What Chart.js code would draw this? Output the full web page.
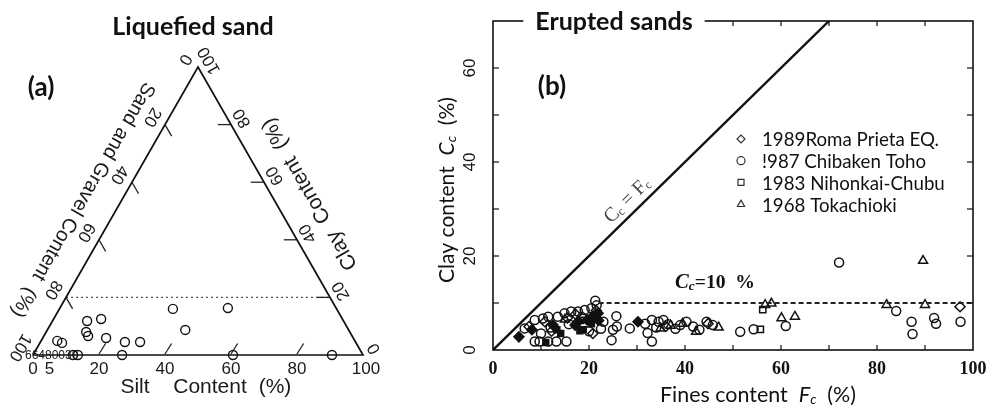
<!DOCTYPE html>
<html>
<head>
<meta charset="utf-8">
<script src="https://cdn.jsdelivr.net/npm/chart.js@4.4.0/dist/chart.umd.min.js"></script>
<style>
  html, body { margin: 0; background: #fff; }
  #wrap { position: relative; width: 989px; height: 409px; overflow: hidden; }
  #wrap canvas { position: absolute; left: 0; top: 0; }
</style>
</head>
<body>
<div id="wrap">
  <canvas id="ternChart" width="989" height="409" style="width:989px;height:409px"></canvas>
  <canvas id="eruptChart" width="989" height="409" style="width:989px;height:409px"></canvas>
</div>
<script>
// ── DATA: (a) liquefied sand, ternary (silt %, clay %) ──────────
const ternSilt = [34.4, 50.9, 10.5, 14.4, 12.1, 13.4, 41.8, 19.2, 25.6, 30.2, 4.9, 6.7];
const ternClay = [16.0, 16.3, 11.8, 12.5,  8.0,  6.6,  8.7,  5.9,  4.5,  4.5, 4.9, 4.2];
const baseSilt = [12.1, 13.6, 27.0, 60.6, 90.6];   // points on the clay = 0 edge
const siltLabels = [0, 5, 20, 40, 60, 80, 100];
const edgeLabels = [0, 20, 40, 60, 80, 100];
const edgeTicks  = [20, 40, 60, 80];
const clayLimit  = 20;

// ── DATA: (b) erupted sands (fines %, clay %) ──────────────────
const chibaX = [6.6, 8.7, 10.4, 11.5, 8.7, 9.7, 11.5, 13.2, 15.3, 13.5, 14.9, 16.3, 17.7, 19.1, 20.5, 21.3, 21.6, 12.0,
  15.8, 18.5, 23.0, 25.0, 24.7, 25.8, 25.7, 22.5, 28.5, 31.7, 33.1, 34.5, 35.5, 33.1, 32.2, 36.5, 39.0, 40.3, 41.7,
  44.5, 45.8, 43.0, 38.0, 51.5, 54.3, 61.0, 72.1, 84.0, 87.2, 87.4, 91.9, 92.3, 97.4, 20.0, 10.0, 34.0];
const chibaY = [4.6, 6.4, 6.7, 7.1, 1.8, 1.8, 1.8, 1.8, 1.8, 7.1, 7.8, 8.2, 8.2, 8.5, 8.9, 10.5, 9.5, 4.8,
  5.5, 7.0, 6.0, 4.3, 2.1, 5.0, 7.2, 4.5, 4.6, 5.6, 6.4, 6.0, 6.4, 1.8, 3.6, 5.5, 5.3, 6.0, 5.0,
  6.0, 5.3, 4.3, 4.5, 3.9, 4.4, 5.1, 18.6, 8.3, 6.0, 3.4, 6.8, 5.6, 6.0, 4.0, 3.5, 4.8];
const tokaX = [34.9, 37.0, 42.3, 47.0, 56.7, 58.0, 60.1, 62.9, 82.0, 90.0, 89.6, 15.0, 39.5];
const tokaY = [4.6, 5.2, 3.9, 4.8, 9.6, 9.9, 6.8, 7.1, 9.6, 9.6, 19.0, 6.5, 5.6];
const lomaX = [7.5, 10.8, 15.5, 17.2, 20.8, 21.5, 44.8, 97.3, 12.2, 36.0];
const lomaY = [5.0, 6.0, 6.8, 7.6, 3.5, 8.4, 5.6, 9.2, 4.0, 5.0];
const nihonX = [55.7, 56.2, 18.2];
const nihonY = [4.4, 8.6, 6.3];
const solidDiaX = [5.4, 8.1, 12.5, 17.1, 17.8, 20.9, 21.9, 19.6, 30.2, 22.0];
const solidDiaY = [2.8, 4.3, 5.3, 5.3, 6.1, 7.3, 7.8, 6.4, 6.0, 6.3];
const solidSqX = [11.0, 13.3, 14.1, 18.8, 20.5, 21.6, 18.1];
const solidSqY = [1.6, 4.3, 3.5, 4.3, 5.6, 6.9, 4.1];
const xTicks = [0, 20, 40, 60, 80, 100];
const yTicks = [0, 20, 40, 60];
const legendNames = ['1989Roma Prieta EQ.', '!987 Chibaken Toho', '1983 Nihonkai-Chubu', '1968 Tokachioki'];
const legendStyles = ['rectRot', 'circle', 'rect', 'triangle'];

// ── helpers ────────────────────────────────────────
const tern = (s, c) => ({ x: s + c / 2, y: c });
const zip = (xs, ys) => xs.map((x, i) => ({ x, y: ys[i] }));
const SANS = '"Liberation Sans", Arial, sans-serif';

function rotText(ctx, txt, x, y, ang, font) {
  ctx.save();
  ctx.translate(x, y);
  ctx.rotate(ang);
  ctx.font = font;
  ctx.textAlign = 'center';
  ctx.textBaseline = 'middle';
  ctx.fillText(txt, 0, 0);
  ctx.restore();
}

// text built from pieces (subscripts); optional width stretches it horizontally
function richText(ctx, parts, x, y, align, width) {
  let w = 0;
  parts.forEach(p => { ctx.font = p.f; p.w = ctx.measureText(p.t).width; w += p.w; });
  const s = width ? width / w : 1;
  ctx.save();
  ctx.translate(align === 'left' ? x : x - w * s / 2, y);
  ctx.scale(s, 1);
  ctx.textAlign = 'left';
  ctx.textBaseline = 'middle';
  let cx = 0;
  parts.forEach(p => { ctx.font = p.f; ctx.fillText(p.t, cx, p.dy || 0); cx += p.w; });
  ctx.restore();
}

// ── (a) ternary decorations ────────────────────────
const ternDeco = {
  id: 'ternDeco',
  afterDatasetsDraw(chart) {
    const { ctx, scales: { x, y } } = chart;
    const P = (s, c) => { const t = tern(s, c); return [x.getPixelForValue(t.x), y.getPixelForValue(t.y)]; };
    ctx.save();
    ctx.strokeStyle = '#222';
    ctx.fillStyle = '#1a1a1a';
    ctx.lineWidth = 1.3;
    // ticks
    edgeTicks.forEach(v => {
      let a = P(v, 0), b = P(v, 4);                       // silt
      ctx.beginPath(); ctx.moveTo(a[0], a[1] - 1); ctx.lineTo(b[0], b[1]); ctx.stroke();
      a = P(0, 100 - v); b = P(4, 96 - v);                // sand & gravel
      ctx.beginPath(); ctx.moveTo(a[0], a[1]); ctx.lineTo(b[0], b[1]); ctx.stroke();
      a = P(100 - v, v); b = P(96 - v, v);                // clay
      ctx.beginPath(); ctx.moveTo(a[0], a[1]); ctx.lineTo(b[0], b[1]); ctx.stroke();
    });
    // bottom numbers
    ctx.font = '17px ' + SANS;
    ctx.textAlign = 'center';
    ctx.textBaseline = 'middle';
    siltLabels.forEach(v => { const p = P(v, 0); ctx.fillText(String(v), p[0] + (v === 100 ? 3 : 0), p[1] + 14); });
    // left and right edge numbers
    edgeLabels.forEach(v => {
      let p = P(0, 100 - v);
      rotText(ctx, String(v), p[0] - 0.866 * 15, p[1] - 0.5 * 15, 2 * Math.PI / 3, '17px ' + SANS);
      p = P(100 - v, v);
      rotText(ctx, String(v), p[0] + 0.866 * 13, p[1] - 0.5 * 13, -2 * Math.PI / 3, '17px ' + SANS);
    });
    // axis titles
    let m = P(0, 48);
    rotText(ctx, 'Sand and Gravel Content  (%)', m[0] - 0.866 * 34, m[1] - 0.5 * 34, 2 * Math.PI / 3, '20px ' + SANS);
    m = P(50, 50);
    rotText(ctx, 'Clay  Content  (%)', m[0] + 0.866 * 34, m[1] - 0.5 * 34, -2 * Math.PI / 3, '21px ' + SANS);
    ctx.font = '21px ' + SANS;
    ctx.fillText('Silt', 135, 387);
    ctx.fillText('Content', 210, 387);
    ctx.fillText('(%)', 275, 387);
    // crowded counts at the sand corner
    ctx.font = '12px ' + SANS;
    ctx.textAlign = 'left';
    ctx.fillText('66480030', 25, 356);
    // titles
    ctx.fillStyle = '#111';
    ctx.textAlign = 'center';
    ctx.font = 'bold 25px Lato, sans-serif';
    ctx.fillText('Liquefied sand', 193, 27);
    ctx.font = 'bold 26px Lato, sans-serif';
    ctx.fillText('(a)', 41, 88);
    ctx.restore();
  }
};

const ptStyle = { borderColor: '#111', borderWidth: 1.4, backgroundColor: 'rgba(0,0,0,0)', clip: false };

new Chart(document.getElementById('ternChart'), {
  type: 'scatter',
  data: {
    datasets: [
      { data: [tern(0, 0), tern(100, 0), tern(0, 100), tern(0, 0)], showLine: true, borderColor: '#111',
        borderWidth: 1.7, pointRadius: 0, clip: false },
      { data: [tern(0, clayLimit), tern(100 - clayLimit, clayLimit)], showLine: true, borderColor: '#555',
        borderWidth: 1.3, borderDash: [2, 3], pointRadius: 0, clip: false },
      { ...ptStyle, data: ternSilt.map((s, i) => tern(s, ternClay[i])), pointRadius: 4.5 },
      { ...ptStyle, data: baseSilt.map(s => tern(s, 0)), pointRadius: 4.5 },
    ]
  },
  options: {
    responsive: false,
    animation: false,
    layout: { padding: { left: 33, right: 626, top: 67, bottom: 54 } },
    scales: {
      x: { type: 'linear', min: 0, max: 100, display: false },
      y: { type: 'linear', min: 0, max: 100, display: false }
    },
    plugins: { legend: { display: false }, tooltip: { enabled: false } }
  },
  plugins: [ternDeco]
});

// ── (b) erupted sands decorations ──────────────────
function drawMarker(ctx, style, x, y, r, fill) {
  ctx.beginPath();
  if (style === 'circle') ctx.arc(x, y, r, 0, Math.PI * 2);
  else if (style === 'rect') ctx.rect(x - r * 0.75, y - r * 0.75, r * 1.5, r * 1.5);
  else if (style === 'rectRot') { ctx.moveTo(x, y - r); ctx.lineTo(x + r, y); ctx.lineTo(x, y + r); ctx.lineTo(x - r, y); ctx.closePath(); }
  else { ctx.moveTo(x, y - r); ctx.lineTo(x + r * 0.9, y + r * 0.6); ctx.lineTo(x - r * 0.9, y + r * 0.6); ctx.closePath(); }
  if (fill) ctx.fill();
  ctx.stroke();
}

const eruptDeco = {
  id: 'eruptDeco',
  afterDatasetsDraw(chart) {
    const { ctx, chartArea: a, scales: { x, y } } = chart;
    ctx.save();
    ctx.strokeStyle = '#111';
    ctx.fillStyle = '#111';
    ctx.lineWidth = 1.6;
    ctx.strokeRect(a.left, a.top, a.right - a.left, a.bottom - a.top);
    // minor ticks every 10 on all four sides
    ctx.lineWidth = 1.2;
    for (let v = 10; v < 100; v += 10) {
      const px = x.getPixelForValue(v);
      ctx.beginPath(); ctx.moveTo(px, a.bottom); ctx.lineTo(px, a.bottom - 5); ctx.stroke();
      ctx.beginPath(); ctx.moveTo(px, a.top); ctx.lineTo(px, a.top + 5); ctx.stroke();
    }
    for (let v = 10; v < 70; v += 10) {
      const py = y.getPixelForValue(v);
      ctx.beginPath(); ctx.moveTo(a.left, py); ctx.lineTo(a.left + 6, py); ctx.stroke();
      ctx.beginPath(); ctx.moveTo(a.right, py); ctx.lineTo(a.right - 6, py); ctx.stroke();
    }
    // tick labels
    ctx.textAlign = 'center';
    ctx.textBaseline = 'middle';
    ctx.font = 'bold 18px "Liberation Serif", "Times New Roman", serif';
    xTicks.forEach(v => ctx.fillText(String(v), x.getPixelForValue(v), a.bottom + 19));
    yTicks.forEach(v => rotText(ctx, String(v), a.left - 23, y.getPixelForValue(v), -Math.PI / 2, '17px ' + SANS));
    // axis titles
    ctx.save();
    ctx.translate(447, 190);
    ctx.rotate(-Math.PI / 2);
    richText(ctx, [
      { t: 'Clay content  ', f: '21px Lato, sans-serif' },
      { t: 'C', f: 'italic 21px Lato, sans-serif' },
      { t: 'c', f: 'italic 14px Lato, sans-serif', dy: 4 },
      { t: '  (%)', f: '21px Lato, sans-serif' }
    ], 0, 0, 'center', 186);
    ctx.restore();
    richText(ctx, [
      { t: 'Fines content  ', f: '22px Lato, sans-serif' },
      { t: 'F', f: 'italic 22px Lato, sans-serif' },
      { t: 'c', f: 'italic 14px Lato, sans-serif', dy: 4 },
      { t: '  (%)', f: '22px Lato, sans-serif' }
    ], 758, 395, 'center', 196);
    // title breaking the top frame
    ctx.font = 'bold 25px Lato, sans-serif';
    const tw = ctx.measureText('Erupted sands').width;
    ctx.fillStyle = '#fff';
    ctx.fillRect(614 - tw / 2 - 12, a.top - 4, tw + 24, 8);
    ctx.fillStyle = '#111';
    ctx.textAlign = 'center';
    ctx.fillText('Erupted sands', 614, 22);
    ctx.font = 'bold 26px Lato, sans-serif';
    ctx.fillText('(b)', 552, 87);
    // Cc = Fc along the diagonal
    const ang = Math.atan2(y.getPixelForValue(70) - y.getPixelForValue(0), x.getPixelForValue(70) - x.getPixelForValue(0));
    ctx.save();
    ctx.translate(x.getPixelForValue(28), y.getPixelForValue(28) - 18);
    ctx.rotate(ang);
    ctx.fillStyle = '#444';
    richText(ctx, [
      { t: 'C', f: '20px "Liberation Serif", serif' },
      { t: 'c', f: '12px "Liberation Serif", serif', dy: 4 },
      { t: ' = F', f: '20px "Liberation Serif", serif' },
      { t: 'c', f: '12px "Liberation Serif", serif', dy: 4 }
    ], 0, 0);
    ctx.restore();
    // Cc = 10 %
    richText(ctx, [
      { t: 'C', f: 'italic bold 20px "Liberation Serif", serif' },
      { t: 'c', f: 'italic bold 13px "Liberation Serif", serif', dy: 4 },
      { t: '=10  %', f: 'bold 19px "Liberation Serif", serif' }
    ], 675, y.getPixelForValue(10) - 20, 'left', 80);
    // legend
    ctx.lineWidth = 1.2;
    ctx.strokeStyle = '#333';
    ctx.font = '20px Lato, sans-serif';
    const ls = 177 / ctx.measureText(legendNames[0]).width;
    legendNames.forEach((name, i) => {
      const ly = 140 + i * 21.7;
      drawMarker(ctx, legendStyles[i], 741, ly - 1, 4, false);
      ctx.save();
      ctx.translate(762, ly);
      ctx.scale(ls, 1);
      ctx.fillStyle = '#111';
      ctx.font = '20px Lato, sans-serif';
      ctx.textAlign = 'left';
      ctx.fillText(name, 0, 0);
      ctx.restore();
    });
    ctx.restore();
  }
};

const mk = (xs, ys, style, r, fill) => ({
  data: zip(xs, ys), pointStyle: style, pointRadius: r, borderWidth: 1.5, borderColor: '#111',
  backgroundColor: fill ? '#111' : 'rgba(0,0,0,0)', clip: false
});

new Chart(document.getElementById('eruptChart'), {
  type: 'scatter',
  data: {
    datasets: [
      { data: [{ x: 0, y: 0 }, { x: 70, y: 70 }], showLine: true, borderColor: '#111', borderWidth: 2.4, pointRadius: 0 },
      { data: [{ x: 22, y: 10 }, { x: 100, y: 10 }], showLine: true, borderColor: '#222', borderWidth: 1.8,
        borderDash: [5, 3], pointRadius: 0 },
      mk(chibaX, chibaY, 'circle', 4.5, false),
      mk(tokaX, tokaY, 'triangle', 5.2, false),
      mk(lomaX, lomaY, 'rectRot', 5, false),
      mk(nihonX, nihonY, 'rect', 4.4, false),
      mk(solidDiaX, solidDiaY, 'rectRot', 5, true),
      mk(solidSqX, solidSqY, 'rect', 4.2, true),
    ]
  },
  options: {
    responsive: false,
    animation: false,
    layout: { padding: { left: 493, right: 16, top: 21, bottom: 59 } },
    scales: {
      x: { type: 'linear', min: 0, max: 100, display: false },
      y: { type: 'linear', min: 0, max: 70, display: false }
    },
    plugins: { legend: { display: false }, tooltip: { enabled: false } }
  },
  plugins: [eruptDeco]
});
</script>
</body>
</html>
